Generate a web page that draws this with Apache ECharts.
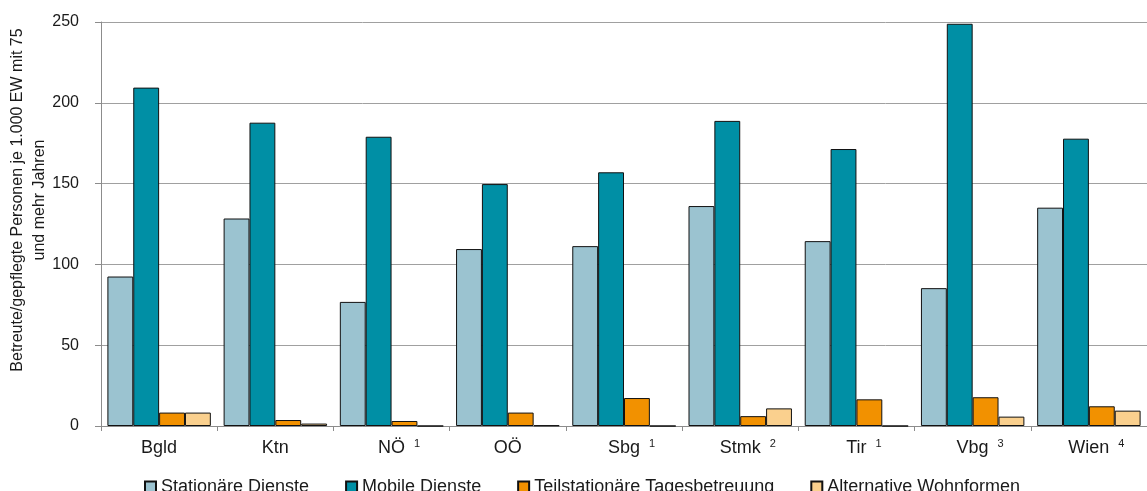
<!DOCTYPE html>
<html>
<head>
<meta charset="utf-8">
<script src="https://cdn.jsdelivr.net/npm/echarts@6/dist/echarts.min.js"></script>
<style>
  html, body { margin: 0; padding: 0; background: #fff; }
  #chart { width: 1147px; height: 491px; }
</style>
</head>
<body>
<div id="chart"></div>
<script>
// Bundesländer and their footnote markers
const regions = ['Bgld', 'Ktn', 'NÖ', 'OÖ', 'Sbg', 'Stmk', 'Tir', 'Vbg', 'Wien'];
const footnotes = ['', '', '1', '', '1', '2', '1', '3', '4'];

// Betreute/gepflegte Personen je 1.000 EW mit 75 und mehr Jahren
const stationaer = [92.5, 128.4, 76.8, 109.5, 111.3, 136.1, 114.4, 85.3, 135.1];
const mobil = [209.4, 187.7, 179.0, 149.7, 157.0, 188.8, 171.4, 248.9, 177.8];
const teilstationaer = [8.3, 3.7, 3.1, 8.3, 17.3, 6.1, 16.5, 17.8, 12.2];
const alternativ = [8.3, 1.5, 0, 0.4, 0, 10.9, 0, 5.8, 9.5];

const seriesNames = ['Stationäre Dienste', 'Mobile Dienste', 'Teilstationäre Tagesbetreuung', 'Alternative Wohnformen'];
const seriesColors = ['#9BC3D0', '#008FA5', '#F29100', '#FAD08E'];
const seriesData = [stationaer, mobil, teilstationaer, alternativ];

const yTitle = ['Betreute/gepflegte Personen je 1.000 EW mit 75', 'und mehr Jahren'];

const FONT = '"Liberation Sans", Arial, sans-serif';
const chart = echarts.init(document.getElementById('chart'), null, { renderer: 'canvas' });

chart.setOption({
  animation: false,
  backgroundColor: '#ffffff',
  textStyle: { fontFamily: FONT },
  grid: { left: 101, right: -10, top: 22, bottom: 65, containLabel: false },
  graphic: [{
    type: 'text',
    x: 29,
    y: 200,
    rotation: Math.PI / 2,
    style: {
      text: yTitle.join('\n'),
      font: '16px ' + FONT,
      fill: '#1a1a1a',
      align: 'center',
      verticalAlign: 'middle',
      lineHeight: 22
    }
  }],
  legend: {
    data: seriesNames,
    icon: 'rect',
    left: 139,
    top: 473,
    itemWidth: 11,
    itemHeight: 11,
    itemGap: 36,
    textStyle: { fontSize: 18, color: '#1a1a1a', fontFamily: FONT }
  },
  xAxis: {
    type: 'category',
    data: regions,
    axisLine: { lineStyle: { color: '#8c8c8c', width: 1 } },
    axisTick: { show: true, length: 5, lineStyle: { color: '#8c8c8c' } },
    axisLabel: {
      interval: 0,
      margin: 12,
      color: '#1a1a1a',
      fontSize: 18,
      fontFamily: FONT,
      formatter: function (val, idx) {
        const note = footnotes[idx];
        if (!note) return '{a|' + val + '}';
        return '{b|' + val + '}{s|' + note + '}';
      },
      rich: {
        a: { fontSize: 18, lineHeight: 20, fontFamily: FONT, color: '#1a1a1a' },
        b: { fontSize: 18, lineHeight: 20, fontFamily: FONT, color: '#1a1a1a', padding: [0, 0, 0, 15] },
        s: { fontSize: 11, lineHeight: 18, fontFamily: FONT, color: '#1a1a1a', verticalAlign: 'top', padding: [0, 0, 0, 9] }
      }
    }
  },
  yAxis: {
    type: 'value',
    min: 0,
    max: 250,
    interval: 50,
    axisLine: { show: true, lineStyle: { color: '#8c8c8c', width: 1 } },
    axisTick: { show: true, length: 6, lineStyle: { color: '#8c8c8c' } },
    axisLabel: { margin: 22, color: '#1a1a1a', fontSize: 16, fontFamily: FONT },
    splitLine: { show: true, lineStyle: { color: '#a0a0a0', width: 1 } }
  },
  series: seriesNames.map((name, i) => ({
    name: name,
    type: 'bar',
    data: seriesData[i],
    barGap: '0%',
    barCategoryGap: '11%',
    itemStyle: { color: seriesColors[i], borderColor: '#111111', borderWidth: 1 }
  }))
});
</script>
</body>
</html>
